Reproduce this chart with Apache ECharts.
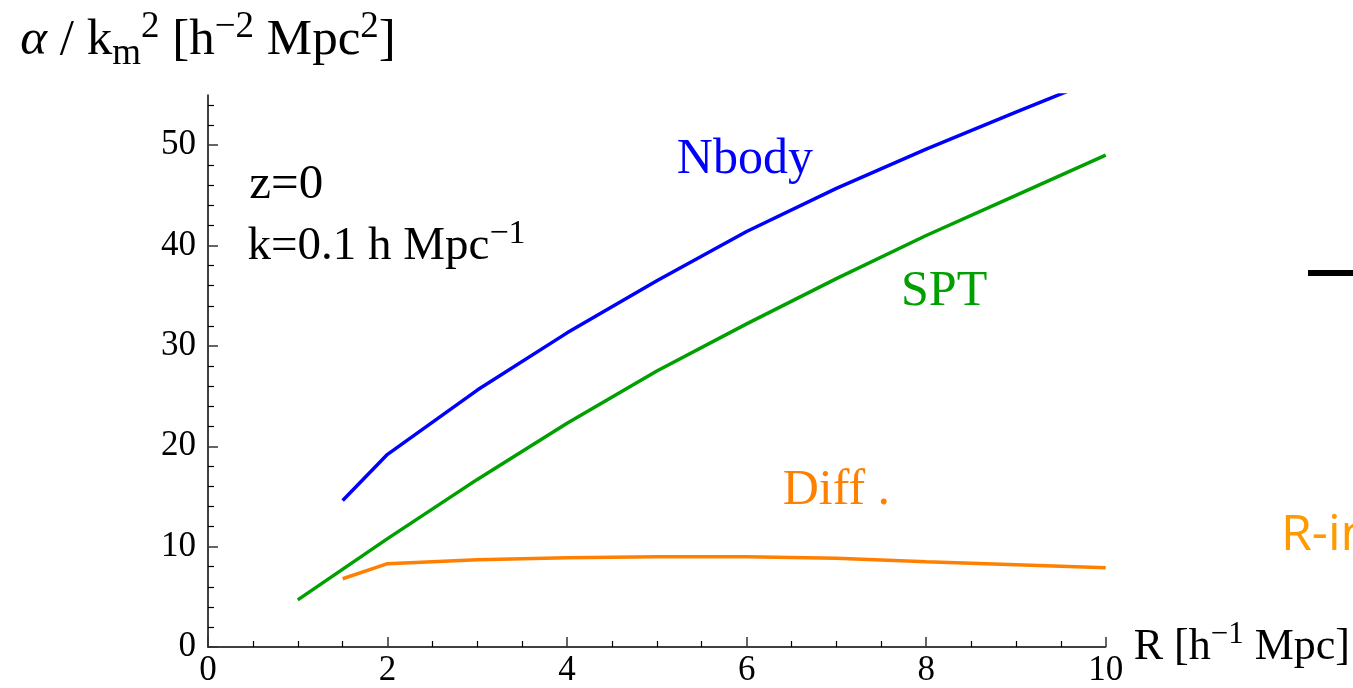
<!DOCTYPE html>
<html>
<head>
<meta charset="utf-8">
<script src="https://cdn.jsdelivr.net/npm/echarts@6/dist/echarts.min.js"></script>
<style>
  html, body { margin: 0; padding: 0; background: #ffffff; }
  #chart { width: 1353px; height: 688px; }
</style>
</head>
<body>
<div id="chart"></div>
<script>
// Smoothing radius R [h^-1 Mpc] and alpha / k_m^2 [h^-2 Mpc^2] at z=0, k=0.1 h/Mpc
const nbodyR   = [1.5, 2, 3, 4, 5, 6, 7, 8, 9, 10];
const nbodyVal = [14.6, 19.2, 25.6, 31.3, 36.5, 41.4, 45.7, 49.6, 53.3, 56.9];

const sptR     = [1, 2, 3, 4, 5, 6, 7, 8, 9, 10];
const sptVal   = [4.7, 10.8, 16.7, 22.3, 27.5, 32.2, 36.7, 41.0, 45.0, 49.0];

const diffR    = [1.5, 2, 3, 4, 5, 6, 7, 8, 9, 10];
const diffVal  = [6.8, 8.3, 8.7, 8.9, 9.0, 9.0, 8.85, 8.5, 8.2, 7.9];

// Axis ticks
const yMajorTicks = [0, 10, 20, 30, 40, 50];
const yMinorTicks = [2, 4, 6, 8, 12, 14, 16, 18, 22, 24, 26, 28, 32, 34, 36, 38, 42, 44, 46, 48, 52, 54];
const xRange = [0, 10];
const yRange = [0, 55];

const SERIF = "'Liberation Serif', 'Times New Roman', serif";
const BLUE = '#0000ff';
const GREEN = '#00a000';
const ORANGE = '#ff8000';

function pairs(xs, ys) {
  return xs.map((x, i) => [x, ys[i]]);
}

// Rich-text pieces for superscripts / subscripts
function richSet(size, supSize) {
  return {
    b: { fontSize: size, fontFamily: SERIF, color: '#000', lineHeight: Math.round(size * 1.25) },
    a: { fontSize: size, fontFamily: SERIF, color: '#000', fontStyle: 'italic', lineHeight: Math.round(size * 1.25) },
    sup: { fontSize: supSize, fontFamily: SERIF, color: '#000', verticalAlign: 'top', lineHeight: supSize },
    sub: { fontSize: supSize, fontFamily: SERIF, color: '#000', verticalAlign: 'bottom', lineHeight: supSize }
  };
}

function textMark(coord, text, color, position, size, rich) {
  return {
    coord: coord,
    symbol: 'circle',
    symbolSize: 0,
    label: {
      show: true,
      position: position,
      distance: 0,
      formatter: text,
      color: color,
      fontFamily: SERIF,
      fontSize: size,
      rich: rich || {}
    }
  };
}

const chart = echarts.init(document.getElementById('chart'), null, { renderer: 'canvas' });

chart.setOption({
  animation: false,
  backgroundColor: '#ffffff',
  grid: { left: 208, right: 247, top: 95, bottom: 39, containLabel: false },
  xAxis: {
    type: 'value',
    min: xRange[0],
    max: xRange[1],
    interval: 2,
    name: '{b|R [h}{sup|−1}{b| Mpc]}',
    nameLocation: 'end',
    nameGap: 28,
    nameTextStyle: { rich: richSet(44, 31) },
    axisLine: { show: true, onZero: false, lineStyle: { color: '#000', width: 1.5 } },
    axisTick: { show: true, inside: true, length: 10, lineStyle: { color: '#333', width: 1.5 } },
    minorTick: { show: true, splitNumber: 4, length: 6, lineStyle: { color: '#000', width: 1.2 } },
    axisLabel: { color: '#000', fontFamily: SERIF, fontSize: 35, margin: 6 },
    splitLine: { show: false },
    minorSplitLine: { show: false }
  },
  yAxis: [
    {
      type: 'value',
      position: 'left',
      min: yRange[0],
      max: yRange[1],
      name: '{a|α}{b| / k}{sub|m}{sup|2}{b| [h}{sup|−2}{b| Mpc}{sup|2}{b|]}',
      nameLocation: 'end',
      nameGap: 22,
      nameTextStyle: { rich: richSet(51, 37) },
      axisLine: { show: true, onZero: false, lineStyle: { color: '#000', width: 1.5 } },
      axisTick: { show: true, inside: true, length: 10, customValues: yMajorTicks, lineStyle: { color: '#333', width: 1.5 } },
      axisLabel: { customValues: yMajorTicks, color: '#000', fontFamily: SERIF, fontSize: 35, margin: 12 },
      splitLine: { show: false }
    },
    {
      type: 'value',
      position: 'left',
      offset: 0,
      min: yRange[0],
      max: yRange[1],
      axisLine: { show: false },
      axisTick: { show: true, inside: true, length: 6, customValues: yMinorTicks, lineStyle: { color: '#000', width: 1.2 } },
      axisLabel: { show: false },
      splitLine: { show: false }
    }
  ],
  series: [
    {
      name: 'Nbody',
      type: 'line',
      data: pairs(nbodyR, nbodyVal),
      showSymbol: false,
      lineStyle: { color: BLUE, width: 3.5 },
      clip: true,
      markPoint: {
        silent: true,
        data: [textMark([5.98, 48.5], 'Nbody', BLUE, 'inside', 50)]
      }
    },
    {
      name: 'SPT',
      type: 'line',
      data: pairs(sptR, sptVal),
      showSymbol: false,
      lineStyle: { color: GREEN, width: 3.5 },
      clip: true,
      markPoint: {
        silent: true,
        data: [
          textMark([8.2, 35.4], 'SPT', GREEN, 'inside', 50),
          textMark([0.46, 46.0], 'z=0', '#000', 'right', 49),
          textMark([0.44, 39.9], '{b|k=0.1 h Mpc}{sup|−1}', '#000', 'right', 47, richSet(47, 34))
        ]
      }
    },
    {
      name: 'Diff.',
      type: 'line',
      data: pairs(diffR, diffVal),
      showSymbol: false,
      lineStyle: { color: ORANGE, width: 3.5 },
      clip: true,
      markPoint: {
        silent: true,
        data: [textMark([7.0, 15.6], 'Diff .', ORANGE, 'inside', 50)]
      }
    }
  ],
  graphic: [
    {
      type: 'rect',
      shape: { x: 1308, y: 270, width: 50, height: 6 },
      style: { fill: '#000' }
    },
    {
      type: 'text',
      x: 1281,
      y: 536,
      style: {
        text: 'R-in',
        fill: '#ff9a00',
        font: "50px 'Open Sans', 'Noto Sans', sans-serif",
        textVerticalAlign: 'middle'
      }
    }
  ]
});
</script>
</body>
</html>
